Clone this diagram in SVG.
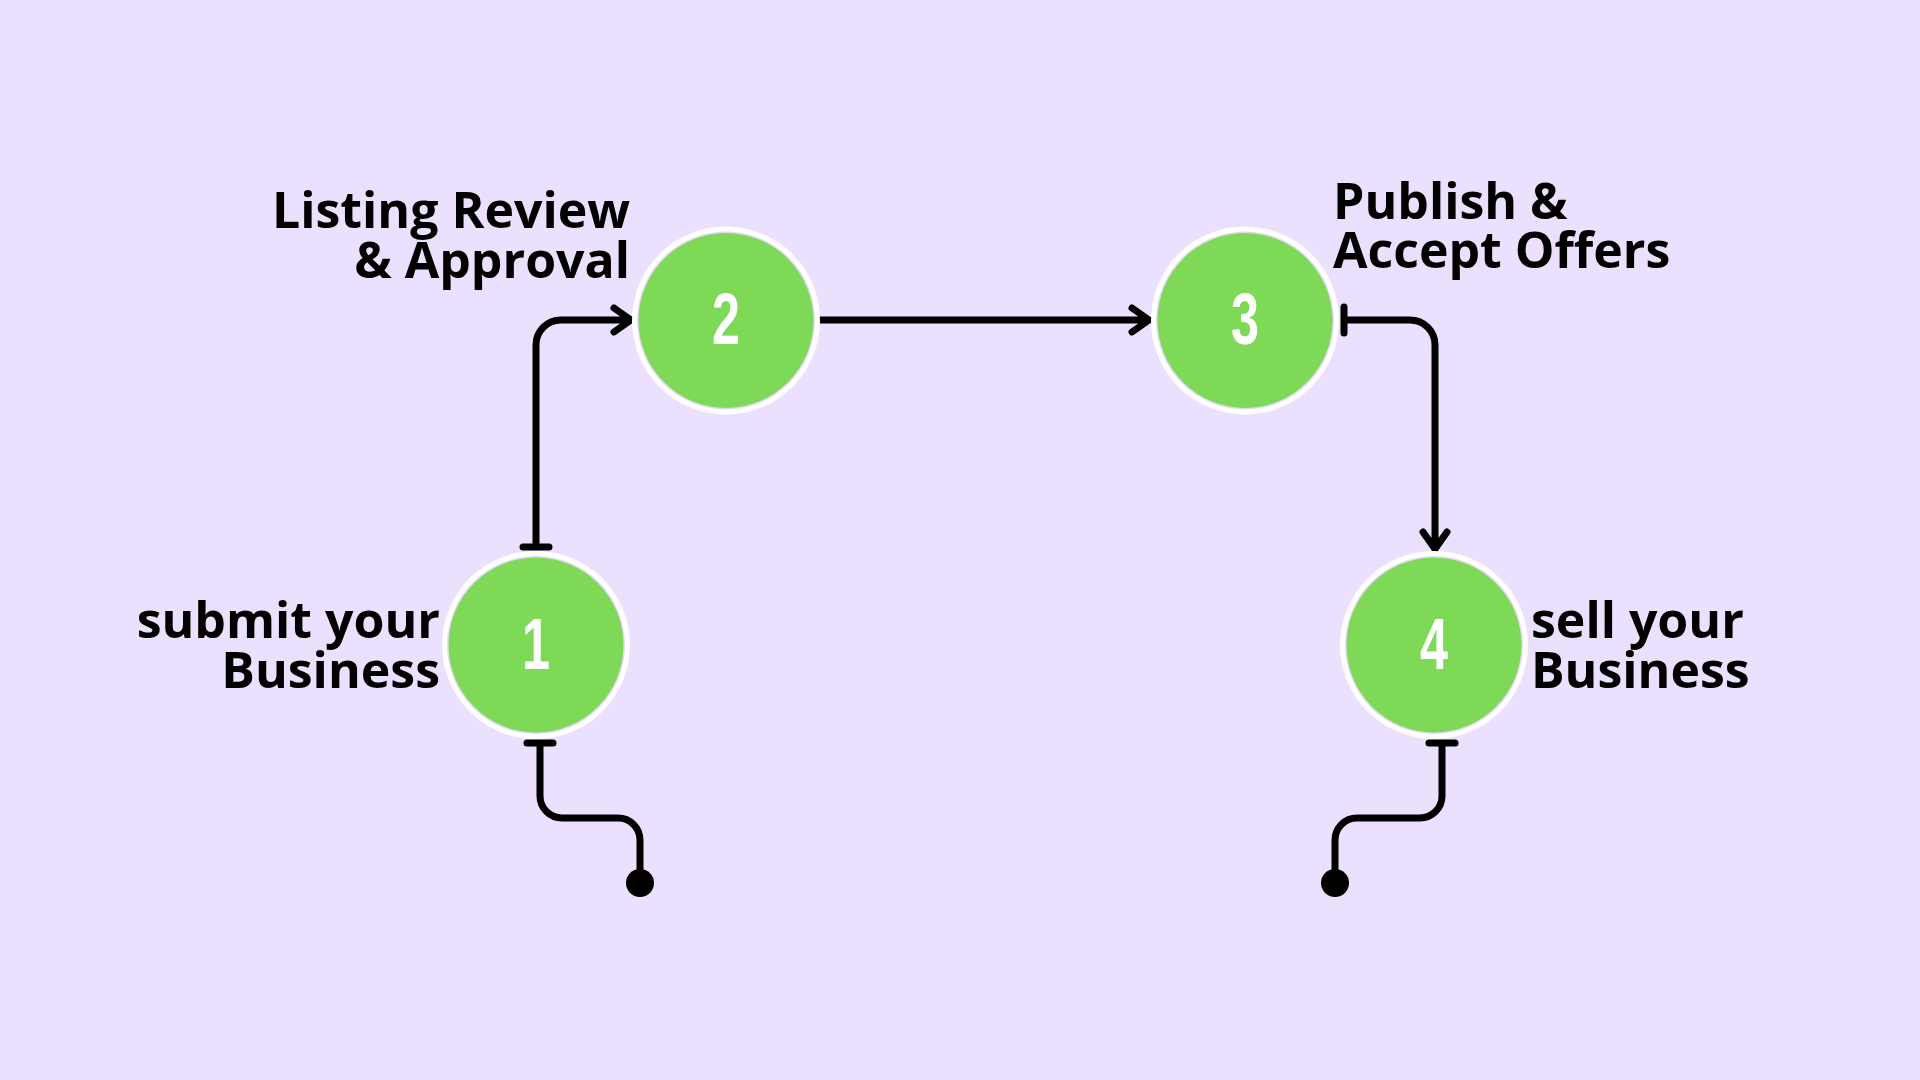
<svg xmlns="http://www.w3.org/2000/svg" width="1920" height="1080" viewBox="0 0 1920 1080">
<style>
.lbl{font-family:"Open Sans","Noto Sans","Liberation Sans",sans-serif;font-weight:700;font-size:50px;fill:#000}
.num{font-family:"Liberation Sans","Arial",sans-serif;font-weight:700;font-size:72px;fill:#fff;text-anchor:middle}
.ring{fill:#fff}
.gap{fill:#E4D8FA}
.disc{fill:#7ED957}
.ln{fill:none;stroke:#000;stroke-width:7;stroke-linecap:round;stroke-linejoin:round}
.dot{fill:#000}
</style>
<rect width="1920" height="1080" fill="#EBE1FE"/>
<g id="connectors">
  <path class="ln" d="M523,547 H549 M536,547 V345 A25,25 0 0 1 561,320 H630 M614,308 L631,320 L614,332"/>
  <path class="ln" d="M820,320 H1149 M1132,308 L1149,320 L1132,332"/>
  <path class="ln" d="M1344,307 V333 M1344,320 H1410 A25,25 0 0 1 1435,345 V549 M1423,532 L1435,549 L1447,532"/>
  <path class="ln" d="M527,743 H553 M540,743 V796 A22,22 0 0 0 562,818 H618 A22,22 0 0 1 640,840 V883"/>
  <circle class="dot" cx="640" cy="883" r="14"/>
  <path class="ln" d="M1429,743 H1455 M1442,743 V796 A22,22 0 0 1 1420,818 H1357 A22,22 0 0 0 1335,840 V883"/>
  <circle class="dot" cx="1335" cy="883" r="14"/>
</g>
<g id="node1">
  <circle class="ring" cx="536" cy="645" r="94"/>
  <circle class="gap" cx="536" cy="645" r="89"/>
  <circle class="disc" cx="536" cy="645" r="87.5"/>
  <text class="num" transform="translate(536,669) scale(0.7,1)">1</text>
  <text class="lbl" text-anchor="end" x="440" y="638">submit your</text>
  <text class="lbl" text-anchor="end" x="440" y="688">Business</text>
</g>
<g id="node2">
  <circle class="ring" cx="726" cy="320.5" r="94"/>
  <circle class="gap" cx="726" cy="320.5" r="89"/>
  <circle class="disc" cx="726" cy="320.5" r="87.5"/>
  <text class="num" transform="translate(726,344) scale(0.7,1)">2</text>
  <text class="lbl" text-anchor="end" x="630" y="228">Listing Review</text>
  <text class="lbl" text-anchor="end" x="630" y="278">&amp; Approval</text>
</g>
<g id="node3">
  <circle class="ring" cx="1245" cy="320.5" r="94"/>
  <circle class="gap" cx="1245" cy="320.5" r="89"/>
  <circle class="disc" cx="1245" cy="320.5" r="87.5"/>
  <text class="num" transform="translate(1245,344) scale(0.7,1)">3</text>
  <text class="lbl" x="1333" y="219">Publish &amp;</text>
  <text class="lbl" x="1333" y="268">Accept Offers</text>
</g>
<g id="node4">
  <circle class="ring" cx="1434" cy="645" r="94"/>
  <circle class="gap" cx="1434" cy="645" r="89"/>
  <circle class="disc" cx="1434" cy="645" r="87.5"/>
  <text class="num" transform="translate(1434,669) scale(0.7,1)">4</text>
  <text class="lbl" x="1531" y="638">sell your</text>
  <text class="lbl" x="1531" y="688">Business</text>
</g>
</svg>
